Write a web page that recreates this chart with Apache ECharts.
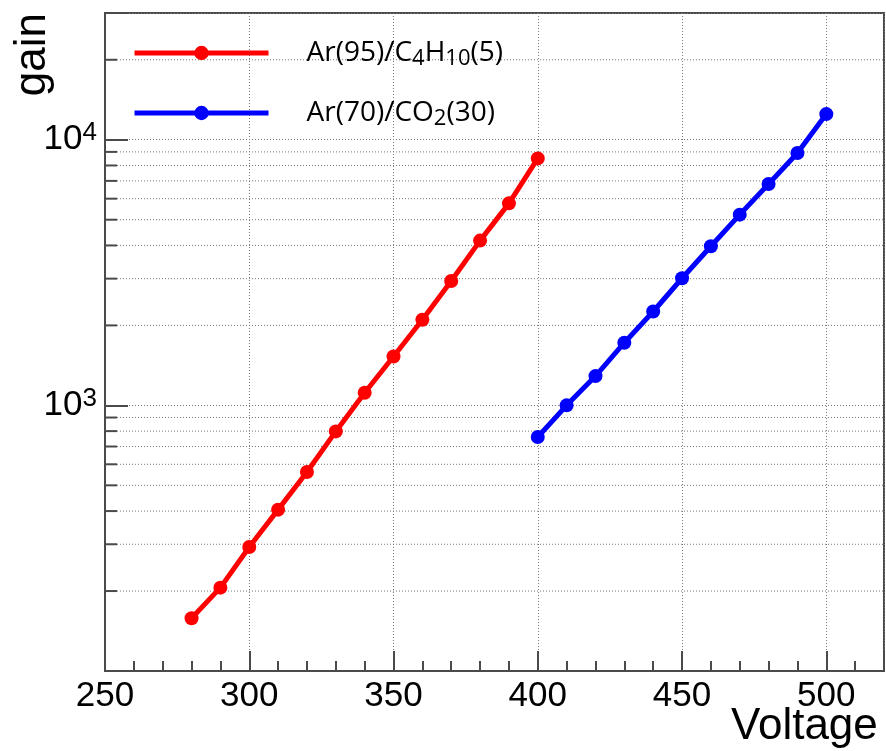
<!DOCTYPE html>
<html><head><meta charset="utf-8">
<script src="https://cdn.jsdelivr.net/npm/echarts@6/dist/echarts.min.js"></script>
<style>html,body{margin:0;padding:0;background:#fff}#c{width:886px;height:751px}</style>
</head><body><div id="c"></div>
<script>
// ---- data ----
const seriesNames = ['Ar(95)/C4H10(5)', 'Ar(70)/CO2(30)'];
const voltageAr95 = [280, 290, 300, 310, 320, 330, 340, 350, 360, 370, 380, 390, 400];
const gainAr95 = [158, 206, 293, 405, 561, 798, 1116, 1528, 2100, 2938, 4171, 5761, 8506];
const voltageAr70 = [400, 410, 420, 430, 440, 450, 460, 470, 480, 490, 500];
const gainAr70 = [760, 1000, 1289, 1721, 2256, 3010, 3972, 5224, 6816, 8913, 12490];
const xMin = 250, xMax = 520;
const yMin = 100, yMax = 30000;
const xLabelValues = [250, 300, 350, 400, 450, 500];
const yLabelValues = [1000, 10000];
const yMinorValues = [200, 300, 400, 500, 600, 700, 800, 900,
                      2000, 3000, 4000, 5000, 6000, 7000, 8000, 9000, 20000];

const toPairs = (xs, ys) => xs.map((x, i) => [x, ys[i]]);

const frameColor = '#4a4a4a';
const gridDot = { color: '#777', width: 1, type: [1, 2] };

const chart = echarts.init(document.getElementById('c'), null, { renderer: 'canvas' });
chart.setOption({
  animation: false,
  backgroundColor: '#fff',
  grid: { left: 105, right: 2, top: 13, bottom: 80, containLabel: false, outerBoundsMode: 'none',
          show: true, borderColor: frameColor, borderWidth: 2, backgroundColor: 'transparent' },
  legend: {
    orient: 'vertical', left: 132, top: 36, itemGap: 26, padding: 0,
    itemWidth: 134, itemHeight: 18,
    data: seriesNames,
    lineStyle: { width: 5 },
    formatter: function (name) {
      if (name === seriesNames[0]) return '{g|}Ar(95)/C{sub|4}H{sub|10}(5)';
      return '{g|}Ar(70)/CO{sub|2}(30)';
    },
    textStyle: {
      fontFamily: 'Open Sans', fontSize: 28, color: '#000', lineHeight: 34,
      rich: {
        g: { width: 33 },
        sub: { fontFamily: 'Open Sans', fontSize: 22, color: '#000', verticalAlign: 'bottom', lineHeight: 22 }
      }
    }
  },
  xAxis: [
    {
      type: 'value', min: xMin, max: xMax, interval: 50, position: 'bottom',
      name: 'Voltage', nameLocation: 'end', nameGap: -153, nameMoveOverlap: false,
      nameTextStyle: { fontFamily: 'Liberation Sans', fontSize: 44, color: '#000', align: 'left', verticalAlign: 'top', padding: [34, 0, 0, 0] },
      axisLine: { show: true, onZero: false, lineStyle: { color: frameColor, width: 2 } },
      axisTick: { show: true, inside: true, length: 20, lineStyle: { color: frameColor, width: 2 } },
      axisLabel: {
        margin: 8, fontFamily: 'Liberation Sans', fontSize: 35, color: '#000',
        formatter: v => (xLabelValues.indexOf(v) >= 0 ? String(v) : '')
      },
      splitLine: { show: true, lineStyle: gridDot }
    },
    {
      type: 'value', min: xMin, max: xMax, interval: 10, position: 'bottom',
      axisLine: { show: false },
      axisTick: { show: true, inside: true, length: 10, lineStyle: { color: frameColor, width: 2 } },
      axisLabel: { show: false },
      splitLine: { show: false }
    }
  ],
  yAxis: {
    type: 'log', logBase: 10, min: yMin, max: yMax,
    name: 'gain', nameLocation: 'end', nameRotate: 90, nameGap: 0, nameMoveOverlap: false,
    nameTextStyle: { fontFamily: 'Liberation Sans', fontSize: 44, color: '#000', align: 'right', verticalAlign: 'bottom', padding: [0, 0, 50, 0] },
    axisLine: { show: true, lineStyle: { color: frameColor, width: 2 } },
    axisTick: { show: true, inside: true, length: 23, lineStyle: { color: frameColor, width: 2 } },
    axisLabel: {
      margin: 8, color: '#000',
      formatter: function (v) {
        for (const t of yLabelValues) {
          if (Math.abs(v - t) / t < 1e-6) return '{b|10}{s|' + Math.round(Math.log10(t)) + '}';
        }
        return '';
      },
      rich: {
        b: { fontFamily: 'Liberation Sans', fontSize: 35, color: '#000', lineHeight: 40 },
        s: { fontFamily: 'Liberation Sans', fontSize: 26, color: '#000', verticalAlign: 'top', lineHeight: 24 }
      }
    },
    splitLine: { show: true, lineStyle: gridDot }
  },
  series: [
    {
      type: 'custom', silent: true, z: 1, clip: false,
      xAxisIndex: 0, yAxisIndex: 0,
      data: yMinorValues.map(v => [xMin, v]),
      renderItem: function (params, api) {
        const cs = params.coordSys;
        const y = api.coord([api.value(0), api.value(1)])[1];
        return {
          type: 'group', children: [
            { type: 'line', shape: { x1: cs.x, y1: y, x2: cs.x + cs.width, y2: y }, style: { stroke: '#777', lineWidth: 1, lineDash: [1, 2] } },
            { type: 'line', shape: { x1: cs.x, y1: y, x2: cs.x + 12, y2: y }, style: { stroke: frameColor, lineWidth: 2 } }
          ]
        };
      }
    },
    {
      name: seriesNames[0], type: 'line', xAxisIndex: 0, z: 3,
      data: toPairs(voltageAr95, gainAr95),
      symbol: 'circle', symbolSize: 14,
      lineStyle: { color: '#ff0000', width: 5 },
      itemStyle: { color: '#ff0000' }
    },
    {
      name: seriesNames[1], type: 'line', xAxisIndex: 0, z: 3,
      data: toPairs(voltageAr70, gainAr70),
      symbol: 'circle', symbolSize: 14,
      lineStyle: { color: '#0000ff', width: 5 },
      itemStyle: { color: '#0000ff' }
    }
  ]
});
</script></body></html>
